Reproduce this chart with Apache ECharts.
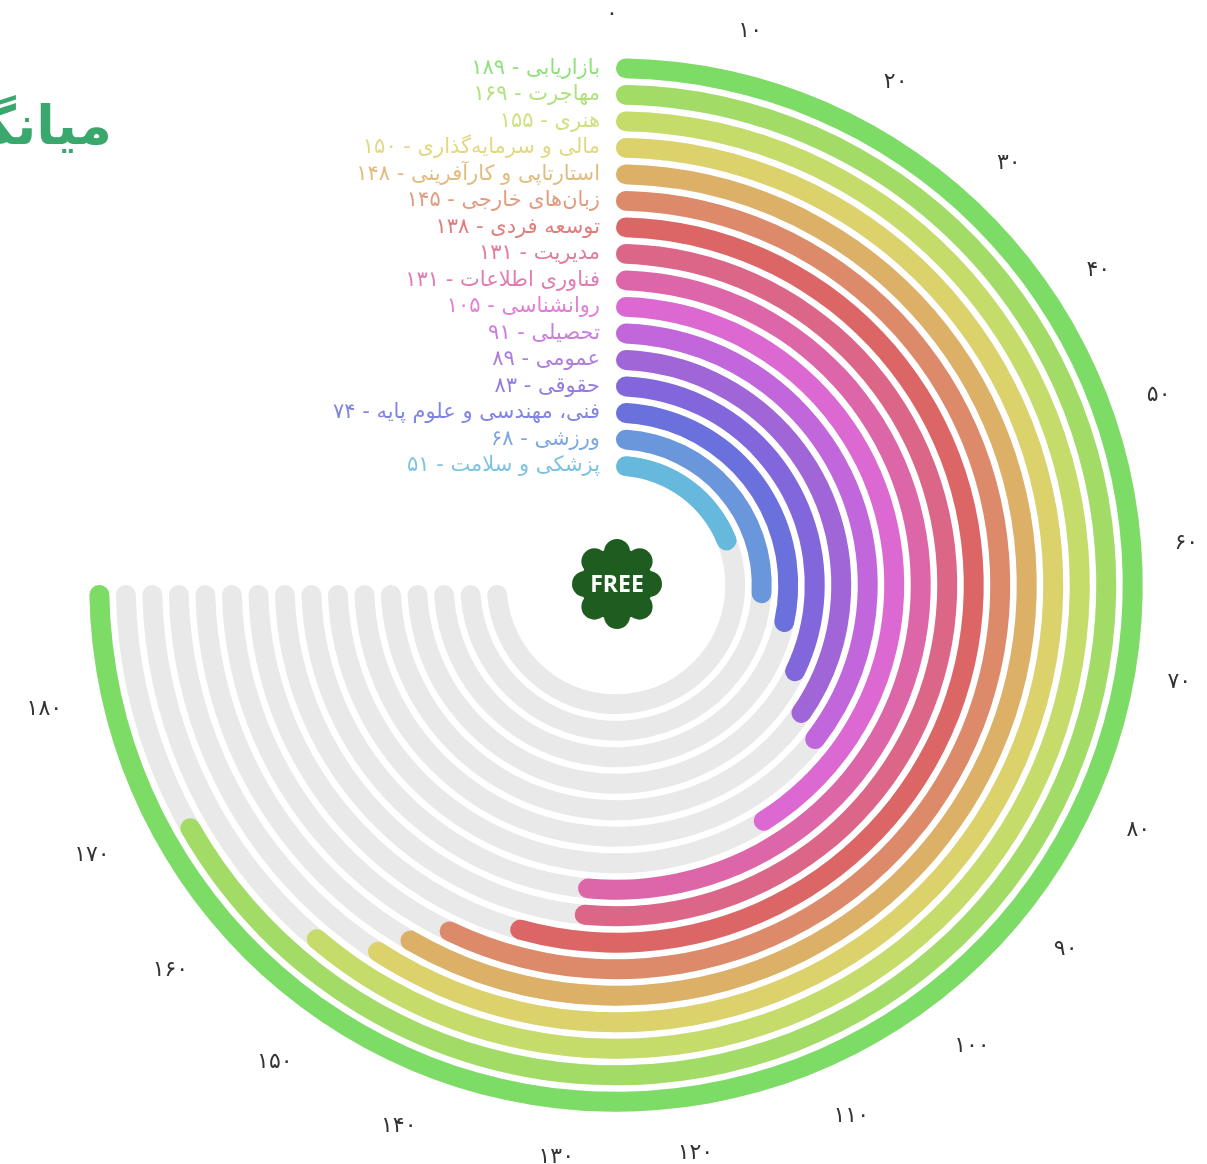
<!DOCTYPE html>
<html>
<head>
<meta charset="utf-8">
<style>
    html, body { margin: 0; padding: 0; background: #fff; }
    #chart { width: 1207px; height: 1164px; }
</style>
</head>
<body>
<div id="chart"></div>
<script src="https://cdn.jsdelivr.net/npm/echarts@6/dist/echarts.min.js"></script>
<script type="text/javascript">
    // دسته‌ها از بیرون به داخل
    var categories = ['بازاریابی', 'مهاجرت', 'هنری', 'مالی و سرمایه‌گذاری', 'استارتاپی و کارآفرینی',
        'زبان‌های خارجی', 'توسعه فردی', 'مدیریت', 'فناوری اطلاعات', 'روانشناسی', 'تحصیلی',
        'عمومی', 'حقوقی', 'فنی، مهندسی و علوم پایه', 'ورزشی', 'پزشکی و سلامت'];
    var values = [189, 169, 155, 150, 148, 145, 138, 131, 131, 105, 91, 89, 83, 74, 68, 51];
    var colors = ['#7cdc66', '#a2dc66', '#c5dc6a', '#dcd26c', '#dcb066', '#dc8a6a', '#dc6666', '#dc6688',
        '#dc66a8', '#dc68d2', '#c266dc', '#a066d8', '#8266dc', '#6a70dc', '#6a96dc', '#66b8dc'];
    var maxValue = 189;
    var trackValues = categories.map(function () { return maxValue; });

    function fa(n) {
        return String(n).replace(/\d/g, function (d) { return '۰۱۲۳۴۵۶۷۸۹'[d]; });
    }

    var chart = echarts.init(document.getElementById('chart'));

    var option = {
        animation: false,
        title: {
            text: 'میانگین قیمت دوره‌ها',
            right: 1090,
            top: 98,
            textStyle: {
                fontFamily: 'DejaVu Sans',
                fontSize: 54,
                fontWeight: 'bold',
                color: '#3aa76d'
            }
        },
        polar: {
            center: [616, 585],
            radius: [106, 530]
        },
        angleAxis: {
            type: 'value',
            startAngle: 90,
            clockwise: true,
            min: 0,
            max: maxValue * 4 / 3,
            interval: 10,
            axisLine: { show: false },
            axisTick: { show: false },
            splitLine: { show: false },
            axisLabel: {
                margin: 30,
                padding: [4, 8, 0, 0],
                fontFamily: 'DejaVu Sans',
                fontSize: 22,
                color: '#333',
                formatter: function (v) {
                    return v <= 180 ? fa(v) : '';
                }
            }
        },
        radiusAxis: {
            type: 'category',
            data: categories,
            inverse: true,
            z: 10,
            axisLine: { show: false },
            axisTick: { show: false },
            axisLabel: {
                interval: 0,
                hideOverlap: false,
                margin: 16,
                fontFamily: 'DejaVu Sans',
                fontSize: 21,
                opacity: 0.85,
                color: function (v) { return colors[categories.indexOf(v)]; },
                formatter: function (v) { return v + ' - ' + fa(values[categories.indexOf(v)]); }
            }
        },
        series: [
            {
                name: 'track',
                type: 'bar',
                coordinateSystem: 'polar',
                data: trackValues,
                barCategoryGap: '25%',
                silent: true,
                itemStyle: { color: '#e9e9e9', borderRadius: 10 },
                z: 1
            },
            {
                name: 'value',
                type: 'bar',
                coordinateSystem: 'polar',
                data: values,
                barGap: '-100%',
                barCategoryGap: '25%',
                itemStyle: {
                    borderRadius: 10,
                    color: function (p) { return colors[p.dataIndex]; }
                },
                z: 2
            }
        ],
        graphic: [
            {
                type: 'group',
                left: 572,
                top: 539,
                children: (function () {
                    var parts = [{ type: 'circle', shape: { cx: 45, cy: 45, r: 36 }, style: { fill: '#1e5c20' } }];
                    for (var k = 0; k < 8; k++) {
                        var a = k * Math.PI / 4;
                        parts.push({
                            type: 'circle',
                            shape: { cx: 45 + 32 * Math.sin(a), cy: 45 - 32 * Math.cos(a), r: 13 },
                            style: { fill: '#1e5c20' }
                        });
                    }
                    parts.push({
                        type: 'text',
                        x: 45, y: 46,
                        style: {
                            text: 'FREE',
                            fill: '#fff',
                            font: 'bold 23px "Open Sans", "DejaVu Sans", sans-serif',
                            align: 'center',
                            verticalAlign: 'middle'
                        }
                    });
                    return parts;
                })()
            }
        ]
    };

    chart.setOption(option);
</script>
</body>
</html>
